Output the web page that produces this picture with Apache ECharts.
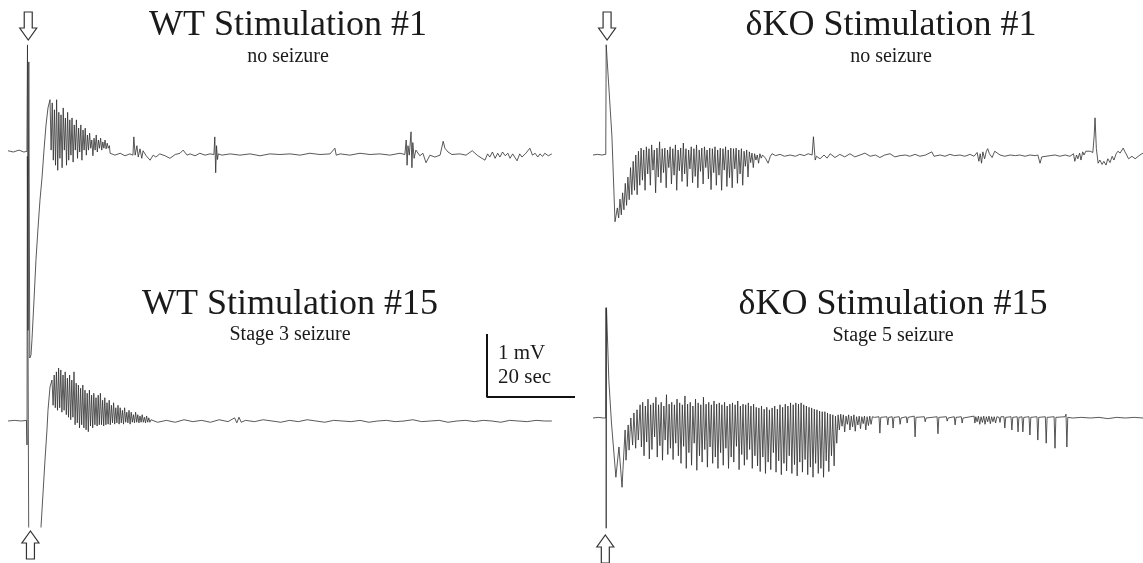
<!DOCTYPE html>
<html>
<head>
<meta charset="utf-8">
<script src="https://cdn.jsdelivr.net/npm/echarts@6/dist/echarts.min.js"></script>
<style>
  html, body { margin: 0; padding: 0; background: #fff; }
  #chart { width: 1143px; height: 563px; }
</style>
</head>
<body>
<div id="chart"></div>
<script>
// EEG traces: time in seconds, amplitude in mV (0 = pre-stimulus baseline).

// ---- WT, stimulation #1 ----
const wt1Lead = [[0,0.02],[1.2,0],[2.5,0.03],[3.6,0],[4.3,0.01]];
const wt1Stim = [[4.43,1.70],[4.55,-2.83],[4.73,1.43],[4.95,-3.27],[5.23,-3.22],[5.45,-2.98],[5.91,-2.35],
  [6.36,-1.71],[6.82,-1.21],[7.27,-0.76],[7.73,-0.41],[8.18,0.03],[8.64,0.43],[9.09,0.70]];
const wt1BurstStart = 9.55, wt1BurstStep = 0.25;
const wt1Burst = [0.83,0.03,0.78,-0.13,0.67,-0.21,0.83,-0.29,0.63,-0.10,0.59,-0.25,0.70,0.03,0.54,-0.21,
  0.63,-0.13,0.51,-0.05,0.54,-0.16,0.43,0.03,0.51,-0.10,0.38,0.00,0.43,-0.13,0.35,0.03,0.38,-0.05,0.27,0.03,
  0.30,0.06,0.19,-0.06,0.22,0.03,0.27,0.00,0.19,0.06,0.22,0.03,0.16,0.06,0.19,0.05,0.14,0.06,0.10];
const wt1Tail = [[23.2,-0.02],[24.3,-0.05],[25.5,-0.02],[26.6,-0.06],[27.7,-0.03],[28.4,-0.05],[28.6,0.24],
  [28.9,-0.05],[29.3,0.1],[29.6,-0.08],[30.0,0.05],[30.4,-0.1],[30.7,0.02],[31.4,-0.06],[32.3,-0.13],[33.0,-0.05],
  [33.6,-0.08],[34.5,-0.03],[35.7,-0.06],[36.8,-0.1],[38.0,-0.04],[39.1,-0.02],[39.8,0.03],[40.7,-0.05],
  [41.4,-0.03],[42.5,-0.06],[43.6,-0.02],[44.8,-0.05],[45.9,-0.03],[46.8,-0.04],[47.0,0.24],[47.2,-0.33],
  [47.4,0.1],[47.6,-0.12],[47.8,-0.03],[48.6,-0.05],[50.5,-0.03],[52.7,-0.05],[55.0,-0.03],[57.3,-0.06],
  [59.5,-0.03],[61.8,-0.04],[64.1,-0.03],[66.4,-0.05],[68.6,-0.02],[70.9,-0.04],[73.2,-0.03],[74.3,0.06],
  [74.6,-0.05],[75.5,-0.03],[77.7,-0.05],[80.0,-0.02],[82.3,-0.04],[84.5,-0.03],[86.8,-0.05],[89.1,-0.02],
  [90.2,-0.04],[90.5,0.19],[90.7,-0.21],[90.9,0.1],[91.2,-0.05],[91.6,0.32],[91.8,-0.25],[92.0,0.15],
  [92.3,-0.1],[92.7,0.03],[93.6,-0.06],[94.3,-0.02],[95.0,-0.17],[95.9,-0.05],[97.0,-0.08],[98.2,-0.05],
  [98.6,-0.02],[98.9,0.17],[99.3,0.06],[100.0,0.0],[100.9,-0.04],[102.7,-0.03],[104.1,-0.05],[105.5,0.02],
  [106.8,-0.06],[108.4,-0.13],[109.0,-0.03],[109.5,-0.08],[110.1,0.0],[110.7,-0.1],[111.3,-0.02],[111.8,-0.08],
  [112.4,0.0],[113.0,-0.06],[113.6,-0.02],[114.1,-0.1],[114.7,-0.03],[115.7,-0.14],[116.3,-0.03],[116.8,-0.08],
  [117.7,-0.02],[118.6,0.06],[119.2,-0.05],[119.8,-0.02],[120.4,-0.08],[120.9,-0.03],[121.5,-0.07],[122.0,-0.02],
  [122.8,-0.06],[123.6,-0.03]];

// ---- WT, stimulation #15 (amplifier saturates below the frame after the pulse) ----
const wt15Lead = [[0,0],[1.5,0.01],[3.0,0],[4.2,0.01]];
const wt15Stim = [[4.32,-0.38],[4.40,4.2],[4.70,-1.68],[4.9,-2.6],[7.2,-2.6],[7.5,-1.68],[8.41,-0.62],
  [8.86,-0.14],[9.09,0.17],[9.55,0.54]];
const wt15BurstStart = 10.0, wt15BurstStep = 0.25;
const wt15Burst = [0.65,0.25,0.73,0.21,0.78,0.17,0.84,0.21,0.81,0.14,0.73,0.17,0.78,0.10,0.68,0.06,0.73,0.02,
  0.65,0.06,0.78,-0.06,0.60,-0.03,0.57,-0.11,0.52,-0.06,0.57,-0.11,0.49,-0.14,0.44,-0.17,0.49,-0.08,0.41,-0.11,
  0.44,-0.06,0.37,-0.08,0.41,-0.06,0.44,-0.06,0.33,-0.08,0.37,-0.06,0.29,-0.05,0.33,-0.06,0.25,-0.03,0.29,-0.05,
  0.21,-0.03,0.25,-0.05,0.21,-0.03,0.17,-0.05,0.21,-0.02,0.14,-0.03,0.17,-0.05,0.14,-0.02,0.10,-0.03,0.14,-0.02,
  0.10,-0.03,0.08,-0.02,0.10,-0.02,0.06,-0.03,0.08,-0.02,0.05,-0.02];
const wt15Tail = [[32.5,0.02],[34,-0.02],[36,0.01],[38,-0.02],[40,0.02],[42,-0.01],[44,0.01],[46,-0.02],[48,0.02],
  [50,-0.01],[51.5,0.05],[52,-0.03],[52.5,0.06],[53,-0.02],[54,0.01],[56,-0.01],[58,0.02],[60,0],[62,-0.02],
  [64,0.01],[66,-0.01],[68,0.02],[70,0],[72,-0.02],[74,0.01],[76,0],[78,-0.01],[80,0.01],[82,-0.02],[84,0],
  [86,0.01],[88,-0.01],[90,0],[92,0.02],[94,-0.01],[96,0],[98,0.01],[100,-0.02],[102,0],[104,0.01],[106,-0.01],
  [108,0.01],[110,0],[112,-0.02],[114,0.01],[116,0],[118,-0.01],[120,0.01],[122,0],[123.6,0]];

// ---- δKO, stimulation #1 ----
const ko1Lead = [[0,0],[1,0.01],[2,0],[2.9,0.01]];
const ko1Stim = [[3.0,1.75],[3.2,1.72],[4.3,0.3],[5.0,-1.06]];
const ko1BurstStart = 5.23, ko1BurstStep = 0.3;
const ko1Burst = [-1.03,-0.84,-1.0,-0.70,-0.95,-0.60,-0.87,-0.45,-0.80,-0.35,-0.71,-0.20,-0.63,-0.10,-0.56,0.0,
  -0.63,0.06,-0.48,0.11,-0.40,0.08,-0.56,0.13,-0.30,0.10,-0.48,0.16,-0.24,0.08,-0.60,0.11,-0.35,0.21,-0.44,0.10,
  -0.28,0.11,-0.52,0.08,-0.20,0.13,-0.46,0.10,-0.32,0.16,-0.56,0.08,-0.25,0.11,-0.42,0.19,-0.30,0.10,-0.50,0.08,
  -0.22,0.13,-0.44,0.10,-0.34,0.16,-0.52,0.08,-0.26,0.11,-0.46,0.13,-0.20,0.08,-0.38,0.11,-0.55,0.10,-0.28,0.13,
  -0.48,0.08,-0.32,0.11,-0.56,0.10,-0.24,0.13,-0.50,0.08,-0.36,0.11,-0.52,0.10,-0.22,0.11,-0.45,0.08,-0.30,0.10,
  -0.48,0.06,-0.18,0.08,-0.35,0.05,-0.12,0.03,-0.20,0.02,-0.08,0.0,-0.13,0.02,-0.05,0.0];
const ko1Tail = [[38.6,0.02],[39.2,-0.05],[39.8,-0.13],[40.3,-0.02],[40.7,0.02],[41.5,-0.01],[42.5,0.01],
  [43.5,-0.02],[44.8,0.0],[46,-0.02],[47.0,0.01],[48.0,-0.01],[48.9,0.02],[49.8,0.0],[50.1,0.29],[50.5,-0.08],
  [50.8,-0.02],[51.6,-0.06],[52.5,0.0],[53.2,-0.05],[53.9,0.02],[55,-0.04],[56.1,0.01],[57.2,-0.03],[58.4,0.02],
  [59.5,-0.03],[60.7,0.0],[61.8,0.03],[63,-0.02],[64.2,0.0],[65.2,-0.04],[66.3,0.0],[67.5,0.02],[68.6,-0.03],
  [69.8,-0.01],[71,0.0],[72,-0.02],[73.2,0.01],[74.3,-0.02],[75.6,0.0],[77,0.05],[77.5,-0.02],[78.9,0.0],
  [80,-0.02],[81.1,0.01],[82.2,-0.01],[83.4,0.0],[84.5,-0.02],[85.7,0.01],[86.6,-0.02],[87.3,0.04],[87.7,-0.1],
  [88.0,0.02],[88.3,-0.13],[88.6,0.05],[89.0,-0.06],[89.4,0.06],[89.7,0.1],[90.1,0.02],[90.7,-0.04],[91.3,0.06],
  [91.6,0.03],[92.5,0.0],[93.6,-0.02],[94.8,0.0],[96,-0.01],[97.0,0.0],[98.2,-0.02],[99.3,0.0],[100.5,-0.01],
  [101.1,0.0],[101.6,-0.13],[102.0,-0.03],[102.3,0.0],[103.9,-0.01],[105,0.0],[106.1,-0.02],[107.3,0.0],
  [108.4,-0.02],[109.2,0.02],[109.5,-0.1],[109.9,0.0],[110.2,-0.06],[110.6,0.03],[110.9,-0.08],[111.3,0.05],
  [111.6,0.0],[112.0,0.06],[112.3,0.03],[113.0,0.06],[113.6,0.04],[113.9,0.3],[114.1,0.59],[114.4,0.1],
  [114.8,-0.13],[115.2,-0.08],[115.7,-0.15],[116.1,-0.1],[116.6,-0.16],[117.0,-0.06],[117.5,-0.12],[118.0,-0.02],
  [118.4,-0.08],[118.9,0.02],[119.3,0.06],[119.8,0.03],[120.5,0.11],[120.9,0.05],[121.3,0.0],[121.7,-0.06],
  [122.0,-0.08],[122.5,-0.02],[123.2,-0.06],[124.3,0.0],[125,0.03]];

// ---- δKO, stimulation #15 ----
const ko15Lead = [[0,0],[1.2,0.01],[2.4,0],[2.9,0.0]];
const ko15Stim = [[2.95,1.75],[3.0,-1.75],[3.07,1.75],[3.6,0.6],[4.2,-0.08],[5.2,-0.94],[5.9,-0.46],[6.6,-1.10],
  [6.8,-0.83],[7.3,-0.19],[7.5,-0.67],[8.0,-0.11],[8.2,-0.51],[8.6,0],[9.0,-0.43],[9.3,0.08],[9.7,-0.48],
  [10.0,0.13],[10.3,-0.35]];
const ko15BurstStart = 10.7, ko15BurstStep = 0.3;
const ko15Burst = [
  0.21,-0.46,0.25,-0.60,0.19,-0.38,0.30,-0.65,0.21,-0.50,
  0.24,-0.30,0.33,-0.62,0.21,-0.44,0.25,-0.67,0.19,-0.35,
  0.37,-0.58,0.22,-0.48,0.25,-0.66,0.21,-0.40,0.30,-0.60,
  0.24,-0.72,0.21,-0.45,0.35,-0.80,0.22,-0.55,0.25,-0.75,
  0.19,-0.40,0.30,-0.83,0.24,-0.60,0.21,-0.70,0.33,-0.50,
  0.22,-0.78,0.25,-0.46,0.21,-0.72,0.27,-0.62,0.22,-0.80,
  0.24,-0.55,0.21,-0.75,0.25,-0.48,0.19,-0.80,0.22,-0.62,
  0.24,-0.70,0.21,-0.45,0.27,-0.82,0.19,-0.58,0.22,-0.75,
  0.21,-0.66,0.24,-0.50,0.19,-0.80,0.22,-0.60,0.17,-0.76,
  0.16,-0.85,0.19,-0.62,0.14,-0.88,0.17,-0.70,0.13,-0.82,
  0.16,-0.55,0.19,-0.86,0.14,-0.68,0.21,-0.90,0.17,-0.72,
  0.22,-0.84,0.19,-0.60,0.24,-0.88,0.21,-0.74,0.24,-0.92,
  0.22,-0.70,0.24,-0.86,0.21,-0.66,0.19,-0.90,0.17,-0.78,
  0.16,-0.94,0.14,-0.72,0.13,-0.88,0.11,-0.80,0.10,-0.94,
  0.10,-0.68,0.08,-0.85,0.06,-0.60,0.05,-0.76,0.03,-0.40];
const ko15SpikeStart = 55.7, ko15SpikeStep = 0.3;
const ko15Spikes = [0.05,-0.19,0.06,-0.13,0.05,-0.22,0.03,-0.10,0.05,-0.19,0.03,-0.14,0.05,-0.21,0.02,-0.11,
  0.03,-0.17,0.02,-0.09,0.03,-0.19,0.02,-0.12,0.03,-0.10,0.02];
const ko15Tail = [[64.0,0.01],[65.0,0.02],[65.2,-0.24],[65.4,0.01],[66.8,0.02],[67.0,-0.11],[67.2,0.01],
  [68.0,0.02],[68.2,-0.16],[68.4,0.01],[69.6,0.02],[69.8,-0.10],[70.0,0.0],[71.2,0.02],[71.4,-0.08],[71.6,0.01],
  [73.0,0.03],[73.2,-0.30],[73.4,0.01],[75.3,0.02],[75.5,-0.06],[75.7,0.0],[78.2,0.02],[78.4,-0.25],[78.6,0.01],
  [80.3,0.02],[80.5,-0.05],[80.7,0.0],[82.1,0.02],[82.3,-0.11],[82.5,0.01],[83.7,0.02],[83.9,-0.08],[84.1,0.0],
  [86.6,0.03],[86.8,-0.08],[87.0,0.02],[87.3,-0.06],[87.6,0.03],[87.9,-0.1],[88.2,0.02],[88.5,-0.07],[88.8,0.03],
  [89.1,-0.1],[89.4,0.02],[89.7,-0.06],[90.0,0.03],[90.3,-0.09],[90.6,0.02],[90.9,-0.06],[91.2,0.02],[91.5,-0.08],
  [91.8,0.02],[92.3,0.01],[92.5,-0.07],[92.7,0.02],[93.4,0.02],[93.6,-0.16],[93.8,0.01],[95.0,0.02],[95.2,-0.19],
  [95.4,0.01],[96.4,0.02],[96.6,-0.22],[96.8,0.01],[97.5,0.02],[97.7,-0.22],[97.9,0.01],[99.1,0.02],[99.3,-0.27],
  [99.5,0.01],[100.9,0.02],[101.1,-0.35],[101.3,0.01],[102.8,0.02],[103.0,-0.40],[103.2,0.01],[104.8,0.02],
  [105.0,-0.48],[105.2,0.01],[107.3,0.02],[107.5,0.06],[107.7,-0.46],[107.9,0.01],[109.0,0.0],[111,0.01],
  [113,0.0],[115,0.01],[117,-0.01],[119,0.01],[121,0.0],[123,0.01],[125,0.0]];

// Stimulus onset marked by the arrows (s)
const stimTimes = [4.6, 5.1, 3.2, 2.8];
// Panel headings
const panelTitles = ['WT Stimulation #1', 'WT Stimulation #15', 'δKO Stimulation #1', 'δKO Stimulation #15'];
const panelSubtitles = ['no seizure', 'Stage 3 seizure', 'no seizure', 'Stage 5 seizure'];
// Calibration bar
const scaleBarMV = 1, scaleBarSec = 20;

// ---------------------------------------------------------------------------
function sampled(start, step, values) {
  return values.map((v, i) => [+(start + i * step).toFixed(3), v]);
}
const traces = [
  [].concat(wt1Lead, wt1Stim, sampled(wt1BurstStart, wt1BurstStep, wt1Burst), wt1Tail),
  [].concat(wt15Lead, wt15Stim, sampled(wt15BurstStart, wt15BurstStep, wt15Burst), wt15Tail),
  [].concat(ko1Lead, ko1Stim, sampled(ko1BurstStart, ko1BurstStep, ko1Burst), ko1Tail),
  [].concat(ko15Lead, ko15Stim, sampled(ko15BurstStart, ko15BurstStep, ko15Burst),
            sampled(ko15SpikeStart, ko15SpikeStep, ko15Spikes), ko15Tail)
];

const PX_PER_SEC = 4.4;   // 20 s -> 88 px
const PX_PER_MV = 63;     // 1 mV -> 63 px
// layout per panel: left edge, visible seconds, baseline pixel row, clip box
const layout = [
  { left: 8,   span: 124, base: 152, top: 0, bottom: 563 },
  { left: 8,   span: 124, base: 421, top: 0, bottom: 527 },
  { left: 593, span: 125, base: 155, top: 0, bottom: 563 },
  { left: 593, span: 125, base: 418, top: 0, bottom: 563 }
];

const grids = [], xAxes = [], yAxes = [], series = [];
layout.forEach((p, i) => {
  grids.push({ left: p.left, top: p.top, width: p.span * PX_PER_SEC, height: p.bottom - p.top });
  xAxes.push({ gridIndex: i, type: 'value', min: 0, max: p.span, show: false });
  yAxes.push({ gridIndex: i, type: 'value', show: false,
    min: -(p.bottom - p.base) / PX_PER_MV, max: (p.base - p.top) / PX_PER_MV });
  series.push({
    type: 'line', xAxisIndex: i, yAxisIndex: i, data: traces[i],
    symbol: 'none', sampling: null, clip: true, animation: false, silent: true,
    lineStyle: { color: '#2e2e2e', width: 0.8 }
  });
});

// calibration bar: its own small frame at the same px/unit scale
const bar = { left: 487, bottom: 397 };
grids.push({ left: bar.left, top: bar.bottom - scaleBarMV * PX_PER_MV,
  width: scaleBarSec * PX_PER_SEC, height: scaleBarMV * PX_PER_MV });
xAxes.push({ gridIndex: 4, type: 'value', min: 0, max: scaleBarSec, show: false });
yAxes.push({ gridIndex: 4, type: 'value', min: 0, max: scaleBarMV, show: false });
series.push({
  type: 'line', xAxisIndex: 4, yAxisIndex: 4, clip: false, symbol: 'none', animation: false, silent: true,
  data: [[0, scaleBarMV], [0, 0], [scaleBarSec, 0]],
  lineStyle: { color: '#111', width: 2 }
});

const serif = '"Liberation Serif", "Times New Roman", serif';
const titleRows = [
  { x: 288, y: 26, sy: 57 },
  { x: 290, y: 305, sy: 335 },
  { x: 891, y: 26, sy: 57 },
  { x: 893, y: 305, sy: 336 }
];
const graphic = [];
titleRows.forEach((r, i) => {
  graphic.push({ type: 'text', x: r.x, y: r.y, silent: true,
    style: { text: panelTitles[i], font: '36px ' + serif, fill: '#1a1a1a', align: 'center', verticalAlign: 'middle' } });
  graphic.push({ type: 'text', x: r.x, y: r.sy, silent: true,
    style: { text: panelSubtitles[i], font: '20px ' + serif, fill: '#1a1a1a', align: 'center', verticalAlign: 'middle' } });
});
graphic.push({ type: 'text', x: 498, y: 353, silent: true,
  style: { text: scaleBarMV + ' mV', font: '21px ' + serif, fill: '#1a1a1a', align: 'left', verticalAlign: 'middle' } });
graphic.push({ type: 'text', x: 498, y: 377, silent: true,
  style: { text: scaleBarSec + ' sec', font: '21px ' + serif, fill: '#1a1a1a', align: 'left', verticalAlign: 'middle' } });

const chart = echarts.init(document.getElementById('chart'), null, { renderer: 'canvas' });
chart.setOption({ backgroundColor: '#fff', animation: false, grid: grids, xAxis: xAxes, yAxis: yAxes, series: series, graphic: graphic });

// hollow stimulus arrows, placed at each stimulus time
const downArrow = [[-4,0],[4,0],[4,16],[8.5,16],[0,28],[-8.5,16],[-4,16]];
const upArrow = downArrow.map(([x, y]) => [x, 28 - y]);
const arrowRows = [12, 531, 12, 535];
stimTimes.forEach((t, i) => {
  const px = chart.convertToPixel({ xAxisIndex: i, yAxisIndex: i }, [t, 0])[0];
  const pts = (i % 2 === 0 ? downArrow : upArrow).map(([x, y]) => [px + x, arrowRows[i] + y]);
  graphic.push({ type: 'polygon', silent: true, shape: { points: pts },
    style: { fill: '#fff', stroke: '#333', lineWidth: 1.2 } });
});
chart.setOption({ graphic: graphic });
</script>
</body>
</html>
